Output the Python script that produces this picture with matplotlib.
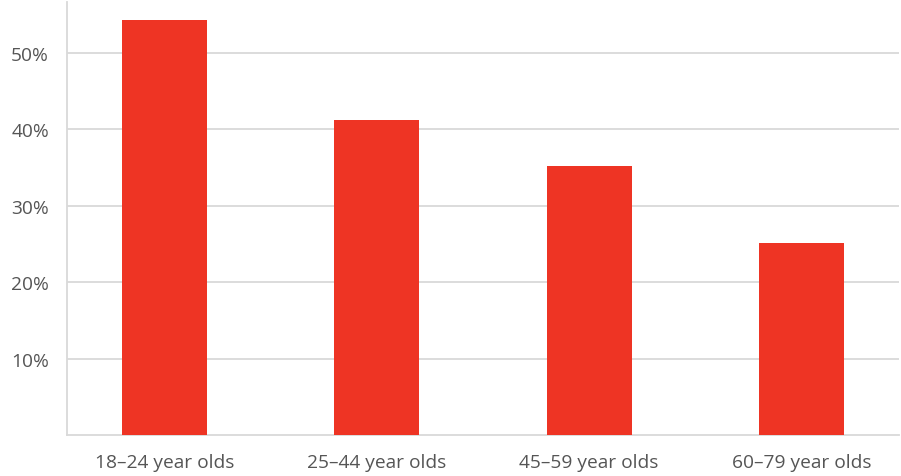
import matplotlib
matplotlib.use("Agg")
import matplotlib.pyplot as plt
from matplotlib.ticker import FuncFormatter

categories = ["18–24 year olds", "25–44 year olds", "45–59 year olds", "60–79 year olds"]
values = [54.2, 41.2, 35.2, 25.1]
yticks = [10, 20, 30, 40, 50]

plt.rcParams["font.family"] = ["Open Sans", "DejaVu Sans"]

W, H = 901, 477
fig = plt.figure(figsize=(W / 100, H / 100), dpi=100)
ax = fig.add_axes([67 / W, (H - 436.4) / H, (899 - 67) / W, (436.4 - 3) / H])

x = range(len(categories))
ax.bar(x, values, width=0.4, color="#EE3424", zorder=3)

ax.set_xlim(-0.46, 3.46)
ax.set_ylim(0, 56.6)
ax.set_yticks(yticks)
ax.yaxis.set_major_formatter(FuncFormatter(lambda v, _: f"{v:.0f}%"))
ax.set_xticks(list(x))
ax.set_xticklabels(categories)

ax.grid(axis="y", color="#d9d9d9", linewidth=1.3, zorder=0)
for side in ("top", "right"):
    ax.spines[side].set_visible(False)
for side in ("left", "bottom"):
    ax.spines[side].set_color("#d9d9d9")
    ax.spines[side].set_linewidth(1.3)

ax.tick_params(axis="both", length=0, labelsize=13.8, labelcolor="#555555")
ax.tick_params(axis="y", pad=13)
ax.tick_params(axis="x", pad=13)

fig.savefig("out.png", dpi=100)
